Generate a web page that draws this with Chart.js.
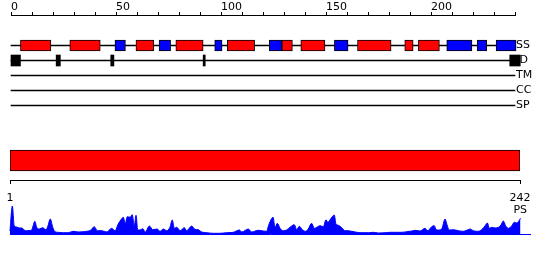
<!DOCTYPE html>
<html>
<head>
<meta charset="utf-8">
<script src="https://cdn.jsdelivr.net/npm/chart.js@4.4.1/dist/chart.umd.min.js"></script>
<style>
  html, body { margin: 0; padding: 0; background: #fff; }
  #wrap { position: relative; width: 550px; height: 260px; overflow: hidden; }
  #wrap canvas { position: absolute; left: 0; }
</style>
</head>
<body>
<div id="wrap">
  <canvas id="ruler" width="550" height="20" style="top:0px"></canvas>
  <canvas id="tracks" width="550" height="75" style="top:38px"></canvas>
  <canvas id="seq" width="550" height="64" style="top:141px"></canvas>
  <canvas id="ps" width="550" height="40" style="top:200px"></canvas>
</div>
<script>
// protein features, residue numbers
const seqLength = 242;
const rulerMax = 240;
const psAxisMax = 246.5;
const trackNames = ["SS", "D", "TM", "CC", "SP"];

// secondary structure: helix (red) and strand (blue) segments
const helices = [
  [4.5, 19], [28, 42.5], [59.5, 68], [78.5, 91.5], [103, 116],
  [129, 134], [138, 149.5], [165, 181], [187.5, 191.5], [194, 204],
];
const strands = [
  [49.5, 54.5], [70.5, 76], [97, 100.5], [123, 129], [154, 160.5],
  [207.5, 219.5], [222, 226.5], [231, 240.5],
];
// disordered regions
const disorder = [[0, 4.5], [21.5, 23.5], [47.5, 49], [91.5, 92.5], [237.5, 242.5]];

// PS profile
const psPos = [
  1, 2.1, 3, 4.2, 5.4, 6.7, 7.6, 8.9, 10.4, 11.2, 11.9, 12.7, 13.6, 14.8, 16.4, 18, 18.9, 20,
  21.2, 22.2, 23.8, 26.2, 28.5, 30.9, 33.2, 35.6, 38, 39.2, 40.8, 42.2, 44.3, 46.7, 49, 50.6,
  52.1, 53.3, 54.5, 55.4, 56.4, 57.7, 58.7, 59.7, 60.5, 61.3, 62.4, 63.7, 64.9, 66.8, 68.4,
  70.5, 71.8, 73.4, 75, 76.5, 77.6, 78.6, 79.7, 81.3, 83.3, 84.4, 86.8, 88.3, 89.9, 91.5,
  93.9, 97, 100.1, 103.3, 106.4, 109.3, 110.4, 113.5, 115.1, 118.2, 120.6, 122.2, 122.8,
  123.8, 125.2, 126.1, 127.2, 128.5, 130, 131.6, 133.2, 135.2, 136.4, 137.6, 139, 140.6,
  141.8, 143.4, 144.7, 146.3, 147.4, 148.9, 150.2, 151, 152.1, 152.9, 154.1, 154.9, 155.7,
  156.8, 157.9, 159.2, 160.7, 162.3, 164.7, 167.1, 170.2, 172.5, 174.9, 178.1, 180.4, 182.8,
  185.9, 188.3, 190.7, 192.2, 194.6, 196.9, 198.2, 200.1, 201.3, 202, 203.2, 204.8, 206.4,
  207.2, 208.4, 210.3, 212.7, 215, 216.6, 218.2, 219.7, 222.1, 224, 225.3, 226.4, 227.3,
  228.4, 230, 231.6, 232.8, 233.9, 235, 236.3, 237.9, 239.1, 240.2, 241.3, 242,
];
const psVal = [
  3, 28, 8, 7, 6, 6, 4, 3.3, 3.5, 4, 8, 12.7, 6.7, 5, 6.3, 4.3, 8, 15,
  6.7, 2.3, 1.7, 1.3, 1.3, 2.7, 2, 2.3, 3, 4, 7.3, 3.3, 3.3, 2, 5.7, 3.3,
  10, 14, 16.7, 10.7, 17.3, 16.7, 19.3, 8.3, 18.7, 4, 4, 5.3, 2, 8, 4.3,
  5, 2.7, 5, 3.3, 6.7, 14, 5.7, 6.7, 3.3, 6.3, 3.3, 8, 4.7, 4.3, 2,
  1.3, 0.7, 0.7, 1.3, 1.7, 4, 2, 5, 2, 3.7, 3, 2.7, 6.7,
  12.5, 16.7, 6.7, 10.7, 5.7, 3.3, 4, 6.7, 9.3, 4.3, 7.7, 4.3, 2.7,
  5, 10.7, 5.7, 7.3, 8.3, 7.3, 14.3, 11.7, 14.3, 16.7, 19, 10, 9,
  7.7, 5.7, 3.3, 3.3, 2.7, 1.7, 1.3, 1.3, 1.7, 1, 1.3, 1.7, 1.7,
  1.7, 2.3, 3, 3.7, 3, 5.7, 3.3, 7.3, 8.3, 5, 4, 5, 15,
  10, 4, 4.3, 3.3, 2.7, 3.7, 5, 3.3, 2.7, 5, 8.3, 11, 5.7,
  6.7, 6, 6.7, 9, 13, 8.3, 5.7, 8.3, 11.7, 11, 13.3, 15.7,
];

const RED = "#ff0000";
const BLUE = "#0000ff";
const BLACK = "#000000";

Chart.defaults.font.family = "'DejaVu Sans', sans-serif";
Chart.defaults.font.size = 11;
Chart.defaults.color = BLACK;
Chart.defaults.animation = false;
Chart.defaults.responsive = false;
Chart.defaults.plugins.legend.display = false;
Chart.defaults.plugins.tooltip.enabled = false;

const noPadding = (s) => {
  s.paddingLeft = 0;
  s.paddingRight = 0;
  s.paddingTop = 0;
  s.paddingBottom = 0;
};

// top ruler
new Chart(document.getElementById("ruler"), {
  type: "line",
  data: { datasets: [] },
  options: {
    layout: { padding: { left: 11, right: 35 } },
    scales: {
      x: {
        type: "linear",
        position: "top",
        min: 0,
        max: rulerMax,
        afterFit: (s) => {
          s.height = 15;
          noPadding(s);
        },
        ticks: {
          stepSize: 10,
          autoSkip: false,
          maxRotation: 0,
          align: "start",
          padding: -2,
          callback: (v) => (v % 50 === 0 ? String(v) : ""),
        },
        grid: { drawOnChartArea: false, tickLength: 3, color: BLACK },
        border: { color: BLACK },
      },
      y: { display: false },
    },
  },
});

// feature tracks
const onTrack = (name) => (seg) => ({ x: seg, y: name });
const trackLines = trackNames.map((name) => ({
  x: [0, name === "D" ? seqLength : rulerMax],
  y: name,
}));

new Chart(document.getElementById("tracks"), {
  type: "bar",
  data: {
    datasets: [
      {
        data: trackLines,
        backgroundColor: BLACK,
        borderWidth: 0,
        barThickness: 1,
        grouped: false,
        order: 3,
        clip: false,
      },
      {
        data: helices.map(onTrack("SS")),
        backgroundColor: RED,
        borderColor: BLACK,
        borderWidth: 1,
        borderSkipped: false,
        barThickness: 11,
        grouped: false,
        order: 1,
      },
      {
        data: strands.map(onTrack("SS")),
        backgroundColor: BLUE,
        borderColor: BLACK,
        borderWidth: 1,
        borderSkipped: false,
        barThickness: 11,
        grouped: false,
        order: 1,
        clip: false,
      },
      {
        data: disorder.map(onTrack("D")),
        backgroundColor: BLACK,
        borderWidth: 0,
        barThickness: 11,
        grouped: false,
        order: 1,
        clip: false,
      },
    ],
  },
  options: {
    indexAxis: "y",
    layout: { padding: { left: 11 } },
    scales: {
      x: { type: "linear", min: 0, max: rulerMax, display: false },
      y: {
        type: "category",
        labels: trackNames,
        position: "right",
        offset: true,
        afterFit: (s) => {
          s.width = 35;
          noPadding(s);
        },
        grid: { display: false, drawTicks: false },
        border: { display: false },
        ticks: {
          padding: 1,
          crossAlign: "near",
          autoSkip: false,
          // the D line runs a little further, so its label sits further right
          callback: (v, i) => (trackNames[i] === "D" ? " D" : trackNames[i]),
        },
      },
    },
  },
});

// whole sequence bar with bottom ruler
new Chart(document.getElementById("seq"), {
  type: "bar",
  data: {
    labels: ["seq"],
    datasets: [
      {
        data: [[1, seqLength]],
        backgroundColor: RED,
        borderColor: BLACK,
        borderWidth: 1,
        borderSkipped: false,
        barThickness: 21,
      },
    ],
  },
  options: {
    indexAxis: "y",
    layout: { padding: { left: 10, right: 30 } },
    scales: {
      x: {
        type: "linear",
        position: "bottom",
        min: 1,
        max: seqLength,
        afterBuildTicks: (s) => {
          s.ticks = [{ value: 1 }, { value: seqLength }];
        },
        afterFit: (s) => {
          s.height = 25;
          noPadding(s);
        },
        ticks: { padding: 8, maxRotation: 0, autoSkip: false },
        grid: { drawOnChartArea: false, tickLength: 4, color: BLACK },
        border: { color: BLACK },
      },
      y: { display: false },
    },
  },
});

// PS profile
new Chart(document.getElementById("ps"), {
  type: "line",
  data: {
    datasets: [
      {
        data: psPos.map((p, i) => ({ x: p, y: psVal[i] })),
        fill: "origin",
        backgroundColor: BLUE,
        borderColor: BLUE,
        borderWidth: 1,
        pointRadius: 0,
        cubicInterpolationMode: "monotone",
        clip: false,
      },
    ],
  },
  options: {
    layout: { padding: { left: 10, top: 4 } },
    scales: {
      x: {
        type: "linear",
        min: 1,
        max: psAxisMax,
        ticks: { display: false },
        grid: { display: false, drawTicks: false },
        border: { color: BLUE },
        afterFit: (s) => {
          s.height = 6;
          noPadding(s);
        },
      },
      y: {
        position: "right",
        min: 0,
        max: 30,
        afterBuildTicks: (s) => {
          s.ticks = [{ value: 24 }];
        },
        afterFit: (s) => {
          s.width = 20;
          noPadding(s);
        },
        ticks: { mirror: true, padding: -3, autoSkip: false, callback: () => "PS" },
        grid: { display: false, drawTicks: false },
        border: { display: false },
      },
    },
  },
});
</script>
</body>
</html>
